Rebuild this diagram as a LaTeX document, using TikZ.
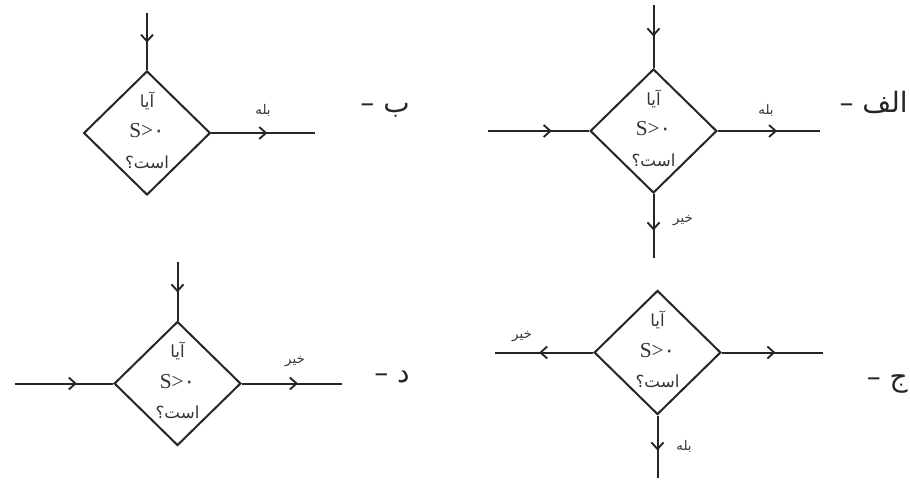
\documentclass[tikz,border=0pt]{standalone}
\usepackage{fontspec}
\setmainfont{Liberation Serif}
\newfontfamily\fa[Script=Arabic]{DejaVu Sans}
\TeXXeTstate=1
\usetikzlibrary{shapes.geometric,arrows.meta,decorations.markings}
\tikzset{
  ln/.style={line width=1.5pt, draw=black!85},
  dia/.style={ln, diamond, aspect=1, minimum width=95pt, minimum height=93pt, inner sep=0pt},
  qtxt/.style={align=center, inner sep=0pt, font=\fa\fontsize{12.5}{23}\selectfont, text=black!80},
  midarr/.style={ln, postaction={decorate}, decoration={markings, mark=at position #1 with {\arrow{Straight Barb[length=5pt,width=9pt,line width=1.4pt]}}}},
  elbl/.style={font=\fa\fontsize{10}{11}\selectfont, inner sep=0pt, text=black!80},
  plbl/.style={font=\fa\fontsize{21}{23}\selectfont, inner sep=0pt, anchor=base east, text=black!85}
}
\newcommand\mydiatext{\beginR آیا\endR\\{\rmfamily\fontsize{16}{23}\selectfont S>}{\fontsize{16}{23}\selectfont ۰}\\\beginR است؟\endR}
\begin{document}
\begin{tikzpicture}[x=0.75pt,y=-0.75pt]
\useasboundingbox (0,0) rectangle (910,481);
\fill[white] (0,0) rectangle (910,481);
% ---- panel alef ----
\node[dia] (A) at (653.5,131) {};
\node[qtxt] (At) at (653.5,128) {\mydiatext};
\coordinate (a1) at (653.5,5);
\coordinate (a2) at (488,131);
\coordinate (a3) at (820,131);
\coordinate (a4) at (653.5,258);
\draw[midarr=0.5] (a1) -- (A.north);
\draw[midarr=0.63] (a2) -- (A.west);
\draw[midarr=0.58] (A.east) -- (a3);
\draw[midarr=0.57] (A.south) -- (a4);
\node[elbl] (Ay) at (766,110) {\beginR بله\endR};
\node[elbl] (An) at (683,221) {\beginR خیر\endR};
\node[plbl] (Al) at (908,113) {\beginR الف –\endR};
% ---- panel be ----
\node[dia] (B) at (147,133) {};
\node[qtxt] (Bt) at (147,130) {\mydiatext};
\coordinate (b1) at (147,13);
\coordinate (b2) at (315,133);
\draw[midarr=0.52] (b1) -- (B.north);
\draw[midarr=0.54] (B.east) -- (b2);
\node[elbl] (By) at (263,110) {\beginR بله\endR};
\node[plbl] (Bl) at (410,113) {\beginR ب –\endR};
% ---- panel jim ----
\node[dia] (C) at (657.5,352.5) {};
\node[qtxt] (Ct) at (657.5,349.5) {\mydiatext};
\coordinate (c1) at (495,352.5);
\coordinate (c2) at (823,352.5);
\coordinate (c3) at (657.5,478);
\draw[midarr=0.55] (C.west) -- (c1);
\draw[midarr=0.53] (C.east) -- (c2);
\draw[midarr=0.56] (C.south) -- (c3);
\node[elbl] (Cn) at (522,337) {\beginR خیر\endR};
\node[elbl] (Cy) at (684,446) {\beginR بله\endR};
\node[plbl] (Cl) at (908,386) {\beginR ج –\endR};
% ---- panel dal ----
\node[dia] (D) at (177.5,383.5) {};
\node[qtxt] (Dt) at (177.5,380.5) {\mydiatext};
\coordinate (d1) at (177.5,262);
\coordinate (d2) at (15,383.5);
\coordinate (d3) at (342,383.5);
\draw[midarr=0.52] (d1) -- (D.north);
\draw[midarr=0.63] (d2) -- (D.west);
\draw[midarr=0.56] (D.east) -- (d3);
\node[elbl] (Dn) at (295,362) {\beginR خیر\endR};
\node[plbl] (Dl) at (410,382) {\beginR د –\endR};
\end{tikzpicture}
\end{document}
